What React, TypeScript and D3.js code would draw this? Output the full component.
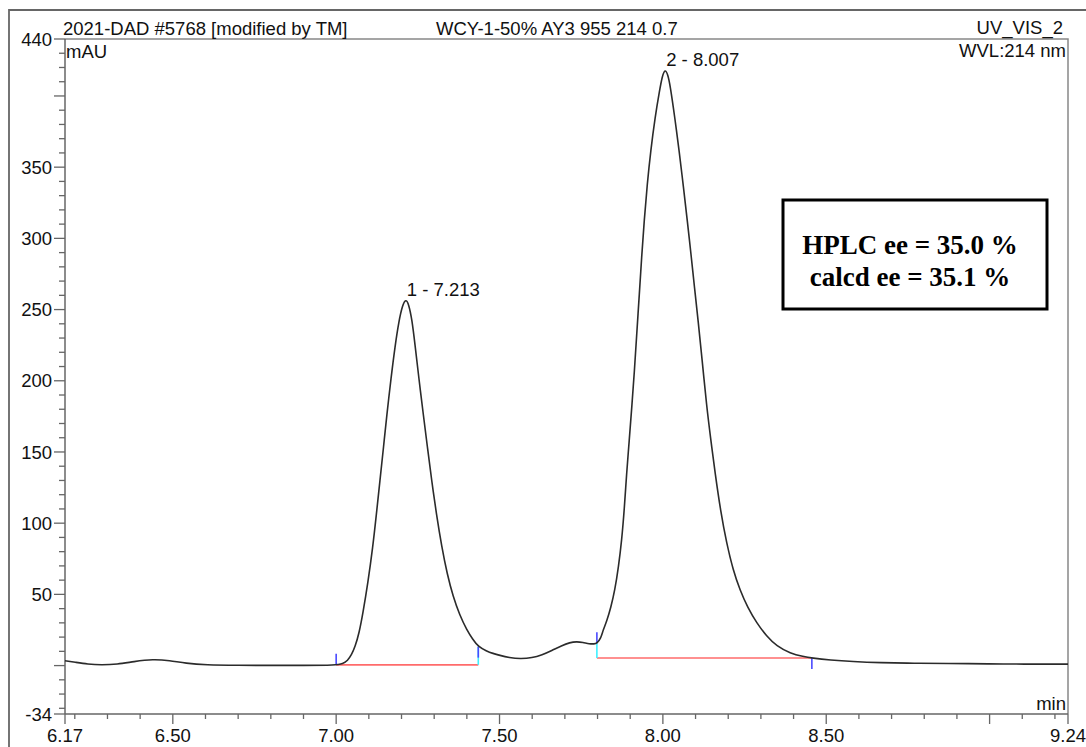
import React, { useRef, useEffect } from 'react';
import * as d3 from 'd3';

// retention time (min) and absorbance (mAU)
const retentionTimes = [
  6.17, 6.20, 6.24, 6.28, 6.33, 6.38, 6.44, 6.49, 6.54, 6.60, 6.70, 6.80, 6.90, 7.00,
  7.02, 7.035, 7.047, 7.058, 7.07, 7.082, 7.097, 7.112, 7.123, 7.134, 7.145, 7.155,
  7.168, 7.180, 7.192, 7.203, 7.213, 7.222, 7.232, 7.241, 7.253, 7.266, 7.279, 7.292,
  7.307, 7.323, 7.340, 7.358, 7.378, 7.400, 7.418, 7.435, 7.46, 7.48, 7.50, 7.53,
  7.563, 7.60, 7.63, 7.66, 7.69, 7.715, 7.736, 7.755, 7.775, 7.79, 7.798, 7.81, 7.817,
  7.828, 7.841, 7.853, 7.864, 7.874, 7.882, 7.889, 7.897, 7.905, 7.913, 7.920, 7.928,
  7.935, 7.943, 7.952, 7.963, 7.976, 7.990, 7.998, 8.007, 8.015, 8.022, 8.037, 8.050,
  8.063, 8.075, 8.086, 8.097, 8.108, 8.120, 8.134, 8.147, 8.160, 8.177, 8.195, 8.215,
  8.236, 8.260, 8.287, 8.318, 8.348, 8.39, 8.430, 8.456, 8.512, 8.58, 8.665, 8.77,
  8.87, 9.00, 9.10, 9.24
];
const absorbance = [
  3.4, 2.4, 1.0, 0.4, 0.9, 2.8, 4.5, 3.5, 1.6, 0.5, 0.2, 0.1, 0.1, 0.3,
  1.2, 3.5, 7.5, 13.3, 22.5, 37, 58, 83, 106, 130, 153.5, 176,
  202, 224, 242, 253, 257.5, 254, 243, 226, 202, 177.6, 154, 130.5,
  106, 83.6, 64, 48.4, 35.5, 25, 18.5, 13.3, 10.2, 8.5, 7.2, 5.6,
  4.7, 5.4, 7.5, 10.6, 14.0, 16.2, 16.8, 16.3, 15.2, 15.2, 15.6, 19, 25,
  31, 41, 53, 69, 88, 110, 135, 158, 182, 207, 233, 261,
  287, 313, 338, 362, 385, 404, 414, 419, 415, 408, 384, 361,
  336, 312, 289, 265, 242, 215, 182, 158, 135, 108, 86, 67,
  53, 40.5, 30, 20.5, 13.8, 8.6, 6.3, 5.3, 3.9, 2.8, 2.0, 1.6,
  1.5, 1.2, 1.0, 1.0
];

// integrated peaks
const peakLabels = ['1 - 7.213', '2 - 8.007'];
const peakApexTimes = [7.213, 8.007];
const peakApexValues = [256.7, 418.2];
const peakStartTimes = [7.0, 7.798];
const peakEndTimes = [7.435, 8.456];
const peakBaselines = [0.5, 5.3];

// axes
const xTickLabels = [6.17, 6.5, 7.0, 7.5, 8.0, 8.5, 9.24];
const yTickLabels = [-34, 50, 100, 150, 200, 250, 300, 350, 440];
const xDomain: [number, number] = [6.17, 9.24];
const yDomain: [number, number] = [-34, 440];

const headerLeft = '2021-DAD #5768 [modified by TM]';
const headerMid = 'WCY-1-50% AY3 955 214 0.7';
const headerRight = 'UV_VIS_2';
const boxLines = ['HPLC ee = 35.0 %', 'calcd ee = 35.1 %'];

const W = 1086;
const H = 747;
const left = 65, right = 1068, top = 39, bottom = 714;
const sans = '"Liberation Sans", Arial, sans-serif';
const serif = '"Liberation Serif", "Times New Roman", serif';
const frame = '#666';

export default function App() {
  const svgRef = useRef<SVGSVGElement>(null);

  useEffect(() => {
    if (!svgRef.current) return;
    const svg = d3.select(svgRef.current);
    svg.selectAll('*').remove();

    const x = d3.scaleLinear().domain(xDomain).range([left, right]);
    const y = d3.scaleLinear().domain(yDomain).range([bottom, top]);

    const data = retentionTimes.map((t, i) => ({ t, v: absorbance[i] }));
    const valueAt = (t: number) => {
      const i = d3.bisector((d: { t: number }) => d.t).left(data, t);
      if (i <= 0) return data[0].v;
      if (i >= data.length) return data[data.length - 1].v;
      const a = data[i - 1], b = data[i];
      return a.v + ((t - a.t) / (b.t - a.t)) * (b.v - a.v);
    };

    // outer page frame
    svg.append('path')
      .attr('d', `M9,${H} L9,10 L${W},10`)
      .attr('fill', 'none')
      .attr('stroke', frame)
      .attr('stroke-width', 1.8);

    // plot frame (top / right)
    svg.append('path')
      .attr('d', `M${left},${top} L${right},${top} L${right},${bottom}`)
      .attr('fill', 'none')
      .attr('stroke', '#888')
      .attr('stroke-width', 1.5);

    // header
    const header = svg.append('g').style('font-family', sans).style('font-size', '18.5px').attr('fill', '#111');
    header.append('text').attr('x', 63).attr('y', 35).text(headerLeft);
    header.append('text').attr('x', 436).attr('y', 35).text(headerMid);
    header.append('text').attr('x', 1063).attr('y', 34).attr('text-anchor', 'end').text(headerRight);

    // y axis
    const yAxis = svg.append('g');
    yAxis.append('line')
      .attr('x1', left).attr('x2', left).attr('y1', top).attr('y2', bottom)
      .attr('stroke', frame).attr('stroke-width', 1.5);
    const yMinor = d3.range(-30, 440, 10);
    yAxis.selectAll('line.minor')
      .data(yMinor)
      .enter()
      .append('line')
      .attr('class', 'minor')
      .attr('x1', d => (d % 50 === 0 ? left - 11 : left - 6))
      .attr('x2', left)
      .attr('y1', d => y(d))
      .attr('y2', d => y(d))
      .attr('stroke', frame)
      .attr('stroke-width', 1.3);
    yAxis.selectAll('line.end')
      .data([yDomain[0], yDomain[1]])
      .enter()
      .append('line')
      .attr('x1', left - 11).attr('x2', left)
      .attr('y1', d => y(d)).attr('y2', d => y(d))
      .attr('stroke', frame).attr('stroke-width', 1.3);
    yAxis.selectAll('text')
      .data(yTickLabels)
      .enter()
      .append('text')
      .attr('x', 52)
      .attr('y', d => y(d))
      .attr('dy', '0.36em')
      .attr('text-anchor', 'end')
      .style('font-family', sans)
      .style('font-size', '18.5px')
      .attr('fill', '#111')
      .text(d => String(d));

    // x axis
    const xAxis = svg.append('g');
    xAxis.append('line')
      .attr('x1', left).attr('x2', right).attr('y1', bottom).attr('y2', bottom)
      .attr('stroke', frame).attr('stroke-width', 1.5);
    const xMinor = d3.range(6.2, 9.21, 0.1).map(d => Math.round(d * 10) / 10);
    xAxis.selectAll('line.minor')
      .data(xMinor)
      .enter()
      .append('line')
      .attr('x1', d => x(d)).attr('x2', d => x(d))
      .attr('y1', bottom)
      .attr('y2', d => (Math.round(d * 10) % 5 === 0 ? bottom + 10 : bottom + 5))
      .attr('stroke', frame).attr('stroke-width', 1.3);
    xAxis.selectAll('line.end')
      .data(xDomain)
      .enter()
      .append('line')
      .attr('x1', d => x(d)).attr('x2', d => x(d))
      .attr('y1', bottom).attr('y2', bottom + 10)
      .attr('stroke', frame).attr('stroke-width', 1.3);
    xAxis.selectAll('text')
      .data(xTickLabels)
      .enter()
      .append('text')
      .attr('x', d => x(d))
      .attr('y', 742)
      .attr('text-anchor', 'middle')
      .style('font-family', sans)
      .style('font-size', '18.5px')
      .attr('fill', '#111')
      .text(d => d.toFixed(2));

    // unit labels
    const units = svg.append('g').style('font-family', sans).style('font-size', '18.5px').attr('fill', '#111');
    units.append('text').attr('x', left + 1).attr('y', 58).text('mAU');
    units.append('text').attr('x', right - 2).attr('y', 57).attr('text-anchor', 'end').text('WVL:214 nm');
    units.append('text').attr('x', right - 2).attr('y', 710).attr('text-anchor', 'end').text('min');

    // baselines + drop lines
    const marks = svg.append('g');
    peakStartTimes.forEach((ts, i) => {
      const te = peakEndTimes[i];
      const b = peakBaselines[i];
      marks.append('line')
        .attr('x1', x(ts)).attr('x2', x(te)).attr('y1', y(b)).attr('y2', y(b))
        .attr('stroke', '#ff6b6b').attr('stroke-width', 1.6);
      [ts, te].forEach((t, j) => {
        const cv = valueAt(t);
        if (Math.abs(y(cv) - y(b)) > 2) {
          marks.append('line')
            .attr('x1', x(t)).attr('x2', x(t)).attr('y1', y(cv)).attr('y2', y(b))
            .attr('stroke', '#3ff0ff').attr('stroke-width', 1.6);
        }
        const dir = j === 0 ? -1 : 1;
        const y0 = j === 0 ? y(Math.max(cv, b)) : y(cv);
        marks.append('line')
          .attr('x1', x(t)).attr('x2', x(t)).attr('y1', y0).attr('y2', y0 + dir * 11)
          .attr('stroke', '#4a4aff').attr('stroke-width', 1.6);
      });
    });

    // trace
    const line = d3.line<{ t: number; v: number }>()
      .x(d => x(d.t))
      .y(d => y(d.v))
      .curve(d3.curveBasis);
    svg.append('path')
      .datum(data)
      .attr('d', line)
      .attr('fill', 'none')
      .attr('stroke', '#2b2b2b')
      .attr('stroke-width', 1.6);

    // peak labels
    svg.append('g')
      .selectAll('text')
      .data(peakLabels)
      .enter()
      .append('text')
      .attr('x', (d, i) => x(peakApexTimes[i]) + 1)
      .attr('y', (d, i) => y(peakApexValues[i]) - 4.5)
      .style('font-family', sans)
      .style('font-size', '18.5px')
      .attr('fill', '#111')
      .text(d => d);

    // ee box
    const box = svg.append('g');
    box.append('rect')
      .attr('x', 783).attr('y', 200).attr('width', 264).attr('height', 109)
      .attr('fill', '#fff').attr('stroke', '#000').attr('stroke-width', 3);
    box.selectAll('text')
      .data(boxLines)
      .enter()
      .append('text')
      .attr('x', 910)
      .attr('y', (d, i) => 254 + i * 31.5)
      .attr('text-anchor', 'middle')
      .style('font-family', serif)
      .style('font-weight', 'bold')
      .style('font-size', '27px')
      .attr('fill', '#000')
      .text(d => d);
  }, []);

  return (
    <svg
      ref={svgRef}
      width={W}
      height={H}
      style={{ position: 'absolute', left: 0, top: 0, background: '#fff' }}
      role="img"
      aria-label="HPLC chromatogram"
    />
  );
}
